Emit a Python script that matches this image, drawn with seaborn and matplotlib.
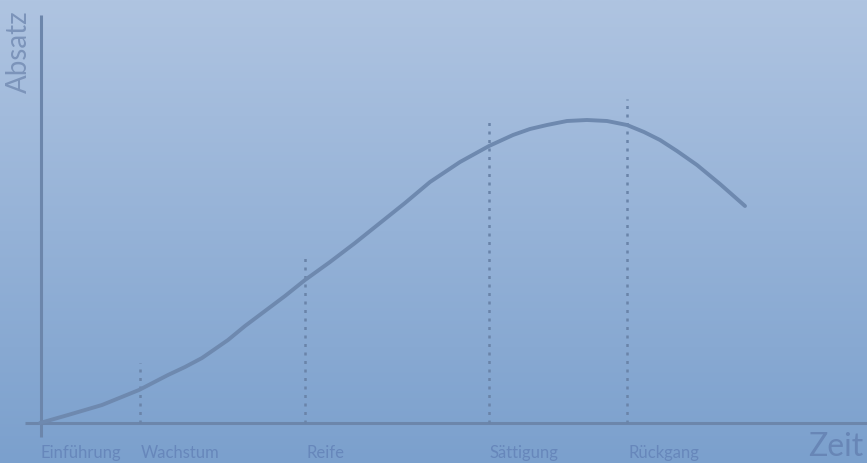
import numpy as np
import pandas as pd
import matplotlib
matplotlib.use("Agg")
import matplotlib.pyplot as plt
import seaborn as sns

# Product life cycle curve (time vs. sales)
zeit = [0, 28, 62, 99, 128, 145, 162, 175, 188, 205, 225, 245, 265, 290, 315, 340, 365, 390,
        420, 449, 473, 490, 507, 527, 547, 567, 587, 604, 620, 637, 657, 680, 705]
absatz = [0, 8, 18, 33, 48, 56, 65, 74, 83, 97, 112, 127, 143, 161, 180, 200, 220, 241,
          261, 277, 288, 294, 298, 302, 303, 302, 298, 291, 283, 272, 258, 239, 217]

phasen = ["Einführung", "Wachstum", "Reife", "Sättigung", "Rückgang"]
phasen_x = [0, 100, 265, 449, 587]
marker_x = [100, 265, 449, 587]
marker_top = [60, 168, 305, 324]

sns.set_theme(style="white")
plt.rcParams["font.family"] = ["Lato", "DejaVu Sans"]

fig = plt.figure(figsize=(8.67, 4.63), dpi=100)
ax = fig.add_axes([0, 0, 1, 1])

# background gradient
top = np.array([0xaf, 0xc4, 0xe1]) / 255
bot = np.array([0x7b, 0xa0, 0xcd]) / 255
t = np.linspace(0, 1, 256)[:, None]
grad = top[None, :] * (1 - t) + bot[None, :] * t
ax.imshow(grad[:, None, :], extent=(-40, 827, -40, 423), aspect="auto", zorder=0)

line_col = "#6c86ab"
# axes
ax.plot([1, 1], [-14, 408], color=line_col, lw=2.2, zorder=2, solid_capstyle="butt")
ax.plot([-15, 827], [0, 0], color=line_col, lw=2.2, zorder=2, solid_capstyle="butt")

# dotted phase markers
for x, ytop in zip(marker_x, marker_top):
    ax.plot([x, x], [0, ytop], color="#6a84a9", lw=1.8, ls=(0, (1.2, 2.2)), zorder=2)

df = pd.DataFrame({"Zeit": zeit, "Absatz": absatz})
sns.lineplot(data=df, x="Zeit", y="Absatz", ax=ax, color="#6e89af", lw=2.8, zorder=3)
ax.lines[-1].set_solid_joinstyle("round")
ax.set_xlim(-40, 827)
ax.set_ylim(-40, 423)
ax.axis("off")

txt_col = "#6787bb"
for lab, x in zip(phasen, phasen_x):
    ax.text(x + 1, -30, lab, color=txt_col, fontsize=12, ha="left", va="center")

ax.text(823, -24, "Zeit", color="#6886b6", fontsize=23, ha="right", va="center")
ax.text(-21, 371, "Absatz", color="#7c94ba", fontsize=20, rotation=90,
        ha="center", va="center")

fig.savefig("out.png", dpi=100)
